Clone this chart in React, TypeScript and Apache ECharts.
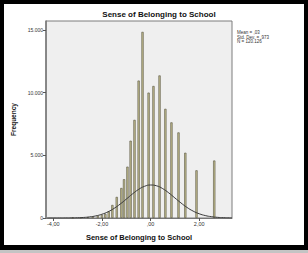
import React, { useEffect, useRef } from "react";
import * as echarts from "echarts";

const barX = [-3.2, -2.87, -2.58, -2.38, -2.17, -2.0, -1.86, -1.72, -1.57, -1.39, -1.2, -1.09, -0.95, -0.82, -0.66, -0.49, -0.33, -0.08, 0.12, 0.37, 0.61, 0.86, 1.15, 1.43, 1.89, 2.62];
const barY = [20, 40, 70, 110, 170, 250, 330, 520, 1040, 1680, 2390, 3090, 4090, 6160, 7820, 10950, 14830, 9990, 10520, 11360, 8700, 7620, 6820, 5200, 3800, 4580];

const curveX = [-4.25, -4.0, -3.75, -3.5, -3.25, -3.0, -2.75, -2.5, -2.25, -2.0, -1.75, -1.5, -1.25, -1.0, -0.75, -0.5, -0.25, 0, 0.25, 0.5, 0.75, 1.0, 1.25, 1.5, 1.75, 2.0, 2.25, 2.5, 2.75, 3.0, 3.25, 3.35];
const curveY = [0, 1, 1, 4, 9, 20, 44, 89, 169, 298, 494, 766, 1109, 1501, 1907, 2268, 2523, 2629, 2564, 2340, 2000, 1600, 1202, 841, 551, 339, 195, 105, 53, 25, 11, 7];

const xTicks = [-4, -2, 0, 2];
const yTicks = [0, 5000, 10000, 15000];

const titleText = "Sense of Belonging to School";
const xTitle = "Sense of Belonging to School";
const yTitle = "Frequency";
const statLines = ["Mean = ,03", "Std. Dev. = ,973", "N = 120.126"];

const fmtX = (v: number) => {
  let s = Math.abs(v).toFixed(2).replace(".", ",");
  if (s.startsWith("0")) s = s.slice(1);
  return (v < 0 ? "-" : "") + s;
};
const fmtY = (v: number) => {
  const s = String(Math.round(v));
  return s.replace(/\B(?=(\d{3})+(?!\d))/g, ".");
};

export default function App() {
  const ref = useRef<HTMLDivElement>(null);
  useEffect(() => {
    if (!ref.current) return;
    const chart = echarts.init(ref.current, null, { renderer: "svg" });
    const font = "Liberation Sans, Arial, sans-serif";
    chart.setOption({
      animation: false,
      backgroundColor: "#ffffff",
      textStyle: { fontFamily: font },
      title: {
        text: titleText,
        left: 159,
        top: 10,
        padding: 0,
        textAlign: "center",
        textStyle: { fontSize: 8, fontWeight: "bold", color: "#111", fontFamily: font },
      },
      grid: {
        left: 46,
        top: 21,
        right: 76,
        bottom: 35,
        show: true,
        backgroundColor: "#efefef",
        borderColor: "#7c7c7c",
        borderWidth: 1,
      },
      xAxis: {
        type: "value",
        min: -4.3,
        max: 3.35,
        name: xTitle,
        nameLocation: "middle",
        nameGap: 15,
        nameTextStyle: { fontSize: 7.5, fontWeight: "bold", color: "#111", fontFamily: font },
        splitLine: { show: false },
        axisLine: { show: true, onZero: false, lineStyle: { color: "#777", width: 1 } },
        axisTick: { show: true, customValues: xTicks, length: 3, lineStyle: { color: "#555" } },
        axisLabel: {
          customValues: xTicks,
          formatter: (v: number) => fmtX(v),
          fontSize: 5.5,
          color: "#333",
          margin: 3,
        },
      },
      yAxis: {
        type: "value",
        min: 0,
        max: 15700,
        name: yTitle,
        nameLocation: "middle",
        nameGap: 16,
        nameTextStyle: { fontSize: 6.5, fontWeight: "bold", color: "#111", fontFamily: font },
        splitLine: { show: false },
        axisLine: { show: true, onZero: false, lineStyle: { color: "#777", width: 1.5 } },
        axisTick: { show: true, customValues: yTicks, length: 3, lineStyle: { color: "#555" } },
        axisLabel: {
          customValues: yTicks,
          formatter: (v: number) => fmtY(v),
          fontSize: 5,
          color: "#333",
          margin: 3,
        },
      },
      series: [
        {
          type: "bar",
          data: barX.map((x, i) => [x, barY[i]]),
          barWidth: 2.2,
          itemStyle: { color: "#c4bf90", borderColor: "#55533f", borderWidth: 0.6 },
        },
        {
          type: "line",
          data: curveX.map((x, i) => [x, curveY[i]]),
          smooth: true,
          showSymbol: false,
          symbol: "none",
          lineStyle: { color: "#3a3a3a", width: 1 },
          z: 5,
        },
      ],
      graphic: [
        { type: "rect", shape: { x: 0, y: 0, width: 308, height: 4 }, style: { fill: "#000" } },
        { type: "rect", shape: { x: 0, y: 0, width: 4, height: 250 }, style: { fill: "#000" } },
        { type: "rect", shape: { x: 304, y: 0, width: 4, height: 250 }, style: { fill: "#000" } },
        { type: "rect", shape: { x: 0, y: 245, width: 308, height: 5 }, style: { fill: "#000" } },
        { type: "rect", shape: { x: 0, y: 250, width: 308, height: 3 }, style: { fill: "#c4c4c4" } },
        ...statLines.map((t, i) => ({
          type: "text",
          left: 237,
          top: 30 + i * 4.5,
          style: { text: t, fontSize: 4.5, fill: "#333", fontFamily: font },
        })),
      ],
    });
    return () => chart.dispose();
  }, []);
  return (
    <div
      ref={ref}
      style={{ position: "fixed", left: 0, top: 0, width: 308, height: 253 }}
    />
  );
}
